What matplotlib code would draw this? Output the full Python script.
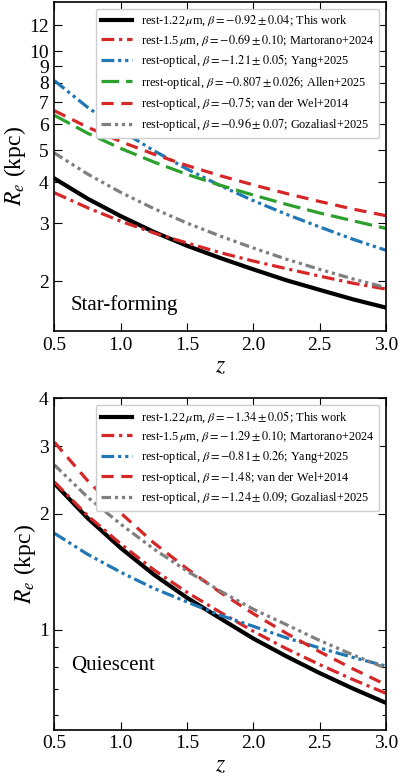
import numpy as np
import matplotlib
matplotlib.use("Agg")
import matplotlib.pyplot as plt
from matplotlib.ticker import FixedLocator, NullFormatter

plt.rcParams['font.family'] = ['Liberation Serif', 'DejaVu Serif']
plt.rcParams['mathtext.fontset'] = 'stix'

z = [0.5, 0.75, 1.0, 1.25, 1.5, 1.75, 2.0, 2.25, 2.5, 2.75, 3.0]

# star-forming, R_e in kpc
sf_this = [4.10, 3.56, 3.15, 2.82, 2.56, 2.35, 2.17, 2.01, 1.88, 1.76, 1.66]
sf_mart = [3.71, 3.34, 3.04, 2.80, 2.61, 2.44, 2.30, 2.18, 2.07, 1.97, 1.89]
sf_yang = [8.13, 6.75, 5.74, 4.98, 4.38, 3.90, 3.51, 3.19, 2.92, 2.68, 2.48]
sf_allen = [6.38, 5.63, 5.06, 4.60, 4.22, 3.91, 3.65, 3.42, 3.22, 3.05, 2.89]
sf_vdw = [6.59, 5.87, 5.31, 4.86, 4.49, 4.18, 3.92, 3.69, 3.49, 3.31, 3.16]
sf_goz = [4.90, 4.23, 3.72, 3.32, 3.00, 2.74, 2.52, 2.33, 2.17, 2.03, 1.91]

# quiescent
q_this = [2.40, 1.95, 1.63, 1.39, 1.21, 1.07, 0.948, 0.852, 0.771, 0.703, 0.645]
q_mart = [2.42, 1.98, 1.67, 1.43, 1.25, 1.11, 0.990, 0.892, 0.811, 0.742, 0.683]
q_yang = [1.78, 1.57, 1.41, 1.28, 1.18, 1.09, 1.02, 0.952, 0.896, 0.847, 0.804]
q_vdw = [3.07, 2.44, 2.01, 1.68, 1.44, 1.25, 1.10, 0.978, 0.876, 0.791, 0.719]
q_goz = [2.68, 2.21, 1.88, 1.62, 1.42, 1.26, 1.13, 1.03, 0.937, 0.860, 0.794]

sf_labels = [
    r'rest-1.22$\,\mu$m, $\beta=-0.92\pm0.04$; This work',
    r'rest-1.5$\,\mu$m, $\beta=-0.69\pm0.10$; Martorano+2024',
    r'rest-optical, $\beta=-1.21\pm0.05$; Yang+2025',
    r'rrest-optical, $\beta=-0.807\pm0.026$; Allen+2025',
    r'rest-optical, $\beta=-0.75$; van der Wel+2014',
    r'rest-optical, $\beta=-0.96\pm0.07$; Gozaliasl+2025',
]
q_labels = [
    r'rest-1.22$\,\mu$m, $\beta=-1.34\pm0.05$; This work',
    r'rest-1.5$\,\mu$m, $\beta=-1.29\pm0.10$; Martorano+2024',
    r'rest-optical, $\beta=-0.81\pm0.26$; Yang+2025',
    r'rest-optical, $\beta=-1.48$; van der Wel+2014',
    r'rest-optical, $\beta=-1.24\pm0.09$; Gozaliasl+2025',
]

red = '#d62728'
blue = '#1f77b4'
green = '#2ca02c'
gray = '#7f7f7f'

sty_this = dict(color='k', lw=3.0, ls='-')
sty_mart = dict(color=red, lw=2.3, dashes=(4, 1.5, 1, 1.5))
sty_yang = dict(color=blue, lw=2.3, dashes=(4, 1.2, 1, 1.2, 1, 1.2))
sty_allen = dict(color=green, lw=2.3, dashes=(5.5, 2.2))
sty_vdw = dict(color=red, lw=2.3, dashes=(3.8, 2.4))
sty_goz = dict(color=gray, lw=2.3, dashes=(3, 1.2, 1, 1.2, 1, 1.2, 1, 1.2))

fig = plt.figure(figsize=(4.0, 7.76), dpi=100)
ax1 = fig.add_axes([0.136, 0.5735, 0.829, 0.4239])
ax2 = fig.add_axes([0.136, 0.0599, 0.829, 0.4272])

ax1.plot(z, sf_this, label=sf_labels[0], **sty_this)
ax1.plot(z, sf_mart, label=sf_labels[1], **sty_mart)
ax1.plot(z, sf_yang, label=sf_labels[2], **sty_yang)
ax1.plot(z, sf_allen, label=sf_labels[3], **sty_allen)
ax1.plot(z, sf_vdw, label=sf_labels[4], **sty_vdw)
ax1.plot(z, sf_goz, label=sf_labels[5], **sty_goz)

ax2.plot(z, q_this, label=q_labels[0], **sty_this)
ax2.plot(z, q_mart, label=q_labels[1], **sty_mart)
ax2.plot(z, q_yang, label=q_labels[2], **sty_yang)
ax2.plot(z, q_vdw, label=q_labels[3], **sty_vdw)
ax2.plot(z, q_goz, label=q_labels[4], **sty_goz)

for ax in (ax1, ax2):
    ax.set_yscale('log')
    ax.set_xlim(0.5, 3.0)
    ax.set_xticks([0.5, 1.0, 1.5, 2.0, 2.5, 3.0])
    ax.set_xticklabels(['0.5', '1.0', '1.5', '2.0', '2.5', '3.0'])
    ax.tick_params(which='both', direction='in', top=True, right=True, labelsize=14)
    ax.tick_params(which='major', length=5.5, width=0.8, pad=4)
    ax.tick_params(which='minor', length=3, width=0.8)
    ax.set_xlabel(r'$z$', fontsize=17, labelpad=2)
    ax.set_ylabel(r'$R_e$ (kpc)', fontsize=17, labelpad=1)
    for s in ax.spines.values():
        s.set_linewidth(1.2)
    ax.legend(loc='upper right', fontsize=8.8, handlelength=2.6,
              labelspacing=0.35, borderaxespad=0.55, handletextpad=0.7,
              borderpad=0.4, framealpha=1.0)

ax1.set_ylim(1.41, 14.1)
ax1.yaxis.set_major_locator(FixedLocator([2, 3, 4, 5, 6, 7, 8, 9, 10, 12]))
ax1.set_yticklabels(['2', '3', '4', '5', '6', '7', '8', '9', '10', '12'])
ax1.yaxis.set_minor_locator(FixedLocator([]))
ax1.yaxis.set_minor_formatter(NullFormatter())

ax2.set_ylim(0.55, 4.0)
ax2.yaxis.set_major_locator(FixedLocator([1, 2, 3, 4]))
ax2.set_yticklabels(['1', '2', '3', '4'])
ax2.yaxis.set_minor_locator(FixedLocator([0.6, 0.7, 0.8, 0.9]))
ax2.yaxis.set_minor_formatter(NullFormatter())

ax1.text(0.05, 0.065, 'Star-forming', transform=ax1.transAxes, fontsize=15)
ax2.text(0.05, 0.18, 'Quiescent', transform=ax2.transAxes, fontsize=15)

fig.savefig('out.png', dpi=100)
